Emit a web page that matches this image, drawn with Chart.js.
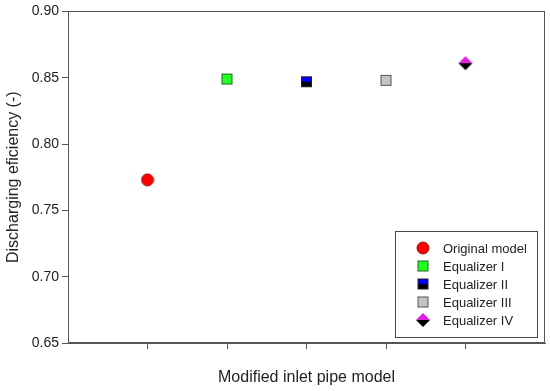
<!DOCTYPE html>
<html>
<head>
<meta charset="utf-8">
<script src="https://cdn.jsdelivr.net/npm/chart.js@4/dist/chart.umd.min.js"></script>
<style>
  html, body { margin: 0; padding: 0; background: #fff; }
</style>
</head>
<body>
<canvas id="chart" width="550" height="391"></canvas>
<script>
'use strict'

var models = ['Original model', 'Equalizer I', 'Equalizer II', 'Equalizer III', 'Equalizer IV'];
var positions = [1, 2, 3, 4, 5];
var efficiency = [0.773, 0.849, 0.847, 0.848, 0.861];
var xMin = 0, xMax = 6;
var yMin = 0.65, yMax = 0.90, yStep = 0.05;

var FONT = "'Liberation Sans', Arial, sans-serif";
var AXIS = '#555';

//------------- marker images ------------- //
function circleImg(r, fill, stroke){
  var c = document.createElement('canvas');
  c.width = c.height = 2 * r + 2;
  var g = c.getContext('2d');
  g.beginPath();
  g.arc(r + 1, r + 1, r, 0, Math.PI * 2);
  g.fillStyle = fill; g.fill();
  g.strokeStyle = stroke; g.lineWidth = 1; g.stroke();
  return c;
}

function squareImg(s, top, bottom, stroke){
  var c = document.createElement('canvas');
  c.width = c.height = s + 2;
  var g = c.getContext('2d');
  g.fillStyle = top; g.fillRect(1, 1, s, s);
  if (bottom){ g.fillStyle = bottom; g.fillRect(1, 1 + s * 0.5, s, s * 0.5); }
  g.strokeStyle = stroke; g.lineWidth = 1; g.strokeRect(1.5, 1.5, s - 1, s - 1);
  return c;
}

function diamondImg(s, top, bottom){
  var c = document.createElement('canvas');
  c.width = c.height = s + 2;
  var g = c.getContext('2d');
  var m = s / 2 + 1;
  g.beginPath(); g.moveTo(1, m); g.lineTo(m, 1); g.lineTo(s + 1, m); g.closePath();
  g.fillStyle = top; g.fill();
  g.beginPath(); g.moveTo(1, m); g.lineTo(m, s + 1); g.lineTo(s + 1, m); g.closePath();
  g.fillStyle = bottom; g.fill();
  return c;
}

var markers = [
  circleImg(6, '#ff0000', '#8a1010'),
  squareImg(11, '#22ff22', null, '#1a6a1a'),
  squareImg(11, '#0000ff', '#000000', '#222'),
  squareImg(11, '#c4c4c4', null, '#555'),
  diamondImg(14, '#e020e0', '#000000')
];

//------------- plugins ------------- //
var framePlugin = {
  id: 'frame',
  afterDraw: function(chart){
    var a = chart.chartArea, g = chart.ctx;
    g.save();
    g.strokeStyle = AXIS; g.lineWidth = 1;
    g.strokeRect(Math.round(a.left) + 0.5, Math.round(a.top) + 0.5,
      Math.round(a.right - a.left) - 1, Math.round(a.bottom - a.top) - 1);
    g.restore();
  }
};

var legendPlugin = {
  id: 'boxLegend',
  afterDraw: function(chart){
    var a = chart.chartArea, g = chart.ctx;
    var w = 142, h = 106;
    var x0 = Math.round(a.right) - 8 - w, y0 = Math.round(a.bottom) - 6 - h;
    g.save();
    g.fillStyle = '#fff';
    g.fillRect(x0, y0, w, h);
    g.strokeStyle = '#444'; g.lineWidth = 1;
    g.strokeRect(x0 + 0.5, y0 + 0.5, w, h);
    g.font = '13px ' + FONT;
    g.fillStyle = '#222';
    g.textBaseline = 'middle';
    chart.data.datasets.forEach(function(ds, i){
      var cy = y0 + 17 + i * 18;
      var img = ds.pointStyle;
      g.drawImage(img, x0 + 28 - img.width / 2, cy - img.height / 2);
      g.fillText(ds.label, x0 + 48, cy + 1);
    });
    g.restore();
  }
};

//------------- chart ------------- //
var datasets = models.map(function(name, i){
  return {
    label: name,
    data: [{ x: positions[i], y: efficiency[i] }],
    pointStyle: markers[i],
    pointRadius: 7,
    showLine: false
  };
});

var chart = new Chart(document.getElementById('chart').getContext('2d'), {
  type: 'scatter',
  data: { datasets: datasets },
  options: {
    responsive: false,
    animation: false,
    layout: { autoPadding: false, padding: { top: 10, right: 5, left: 0, bottom: 0 } },
    plugins: { legend: { display: false }, tooltip: { enabled: false } },
    scales: {
      x: {
        type: 'linear', min: xMin, max: xMax,
        afterFit: function(s){ s.height = 48; },
        ticks: { stepSize: 1, callback: function(){ return ''; } },
        grid: { drawOnChartArea: false, tickLength: 6,
          color: function(c){
            return (c.tick && (c.tick.value === xMin || c.tick.value === xMax)) ? 'rgba(0,0,0,0)' : AXIS;
          } },
        border: { color: AXIS },
        title: { display: true, text: 'Modified inlet pipe model',
          font: { family: FONT, size: 16 }, color: '#222', padding: 4 }
      },
      y: {
        min: yMin, max: yMax,
        afterFit: function(s){ s.width = 68; },
        ticks: { stepSize: yStep, padding: 3, color: '#222',
          font: { family: FONT, size: 14 },
          callback: function(v){ return v.toFixed(2); } },
        grid: { drawOnChartArea: false, tickLength: 6, color: AXIS },
        border: { color: AXIS },
        title: { display: true, text: 'Discharging eficiency (-)',
          font: { family: FONT, size: 16 }, color: '#222', padding: 4 }
      }
    }
  },
  plugins: [framePlugin, legendPlugin]
});
</script>
</body>
</html>
